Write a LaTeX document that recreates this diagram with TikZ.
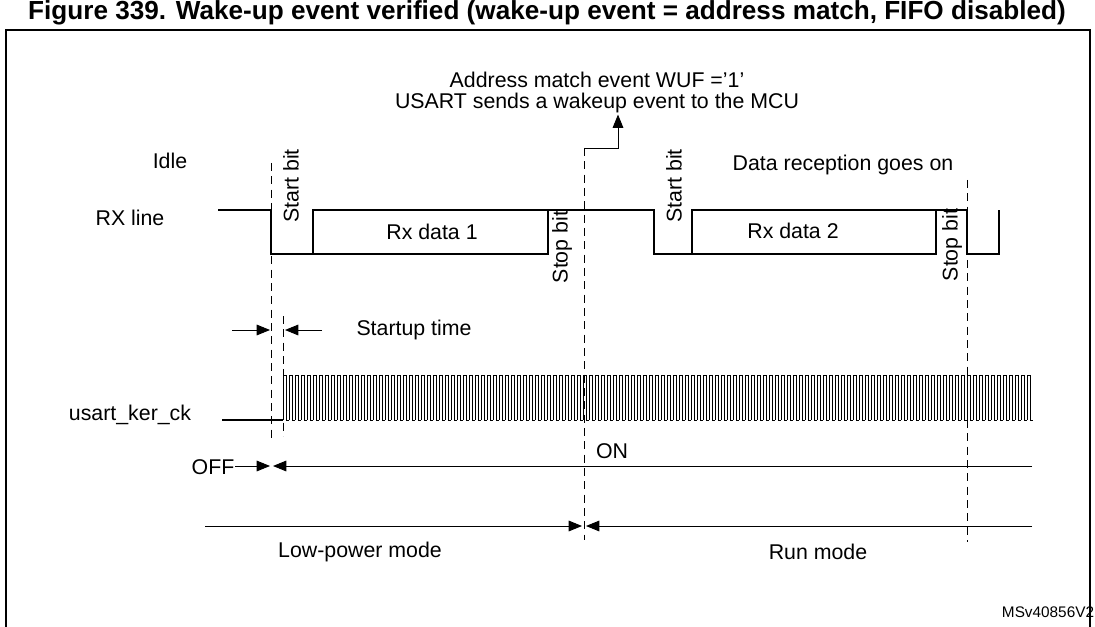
\documentclass[tikz,border=0pt]{standalone}
\usepackage{fontspec}
\setmainfont{Liberation Sans}
\usetikzlibrary{arrows.meta}

\begin{document}
\begin{tikzpicture}[x=0.75pt,y=-0.75pt,
    lbl/.style={inner sep=1pt, font=\fontsize{16}{18}\selectfont},
    vlbl/.style={lbl, rotate=90},
    guide/.style={dashed, dash pattern=on 6pt off 4pt, line width=0.6pt},
    sig/.style={line width=0.8pt},
    tip/.style={-{Triangle[length=10pt,width=8pt]}, line width=0.7pt}]

    \useasboundingbox (0,0) rectangle (1095,627);

    % Title and frame
    \node[font=\bfseries\fontsize{19.6}{22}\selectfont] (title) at (547,13) {Figure 339. Wake-up event verified (wake-up event = address match, FIFO disabled)};
    \draw[line width=1.4pt] (6,627) -- (6,30) -- (1090,30) -- (1090,627);

    % Labels
    \node[lbl] (idle) at (170,161) {Idle};
    \node[lbl] (rxline) at (130,218) {RX line};
    \node[lbl] (rx1) at (432,232) {Rx data 1};
    \node[lbl] (rx2) at (793,231) {Rx data 2};
    \node[vlbl] (start1) at (291,186) {Start bit};
    \node[vlbl] (stop1) at (562,247) {Stop bit};
    \node[vlbl] (start2) at (674,186) {Start bit};
    \node[vlbl] (stop2) at (952,245) {Stop bit};
    \node[lbl] (wuf) at (597,80) {Address match event WUF ='1'};
    \node[lbl] (wake) at (597,103) {USART sends a wakeup event to the MCU};
    \node[lbl] (goeson) at (843,165) {Data reception goes on};
    \node[lbl] (startup) at (414,330) {Startup time};
    \node[lbl] (kerck) at (130,415) {usart\_ker\_ck};
    \node[lbl] (off) at (213,467) {OFF};
    \node[lbl] (on) at (612,451) {ON};
    \node[lbl] (lowpow) at (360,552) {Low-power mode};
    \node[lbl] (runmode) at (818,552) {Run mode};
    \node[lbl, font=\fontsize{11.5}{13}\selectfont] (ref) at (1048,612) {MSv40856V2};

    % Dashed guides
    \draw[guide] (271,163) -- (271,440);
    \draw[guide] (283,316) -- (283,436);
    \draw[guide] (584,148) -- (584,540);
    \draw[guide] (967,180) -- (967,542);

    % RX line waveform
    \draw[sig] (218,210) -- (271,210) -- (271,254) -- (548,254) -- (548,210) -- (654,210)
        -- (654,254) -- (936,254) -- (936,210) -- (967,210) -- (967,254) -- (999,254) -- (999,210);
    \draw[sig] (313,254) -- (313,210) -- (548,210);
    \draw[sig] (692,254) -- (692,210) -- (936,210);

    % Wakeup arrow
    \coordinate (wk) at (584,150);
    \draw[tip] (wk) -- (584,148) -- (618,148) -- (wake.south -| 618,0);

    % Startup time arrows
    \draw[tip] (232,330) -- (270,330);
    \draw[tip] (322,330) -- (285,330);

    % Kernel clock
    \draw[sig] (222,420) -- (283,420);
    \foreach \i in {0,...,124} {
        \draw[line width=0.5pt] ({283+6*\i},420) -- ({283+6*\i},375) -- ({286+6*\i},375)
            -- ({286+6*\i},420) -- ({289+6*\i},420);
    }

    % OFF / ON
    \draw[tip] (235,466) -- (270,466);
    \draw[tip] (1032,466) -- (273,466);

    % Modes
    \draw[tip] (205,526) -- (582,526);
    \draw[tip] (1032,526) -- (586,526);

\end{tikzpicture}
\end{document}
